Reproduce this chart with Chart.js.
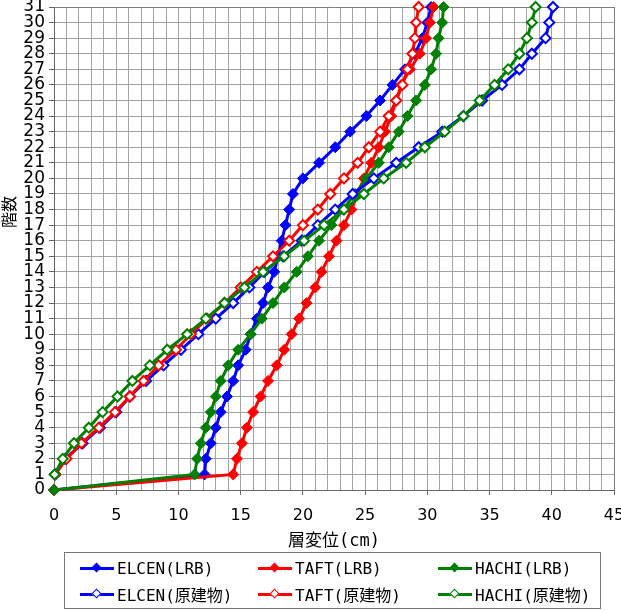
<!DOCTYPE html>
<html>
<head>
<meta charset="utf-8">
<script src="https://cdn.jsdelivr.net/npm/chart.js@4"></script>
<style>
    body { margin: 0; background: #fff; }
    #wrap { position: relative; width: 621px; height: 611px; }
    #chartBox { position: absolute; left: 0; top: 0; width: 621px; height: 556px; }
    #yTitle {
        position: absolute; left: -12px; top: 200px; width: 40px; text-align: center;
        font: 16px "Noto Sans CJK JP", sans-serif; transform: rotate(-90deg);
    }
    #legend {
        position: absolute; left: 64px; top: 552px; width: 535px; height: 53px;
        border: 1px solid #777; box-sizing: content-box;
        display: grid; grid-template-columns: 178px 180px 177px; grid-template-rows: 26px 26px;
        padding-top: 2px;
    }
    .item { display: flex; align-items: center; padding-left: 15px;
        font: 16px "DejaVu Sans Mono", "Noto Sans CJK JP", monospace; }
    .sample { position: relative; width: 34px; height: 3px; margin-right: 3px; }
    .mark { position: absolute; left: 13px; top: -3px; width: 7px; height: 7px; transform: rotate(45deg);
        box-sizing: border-box; }
</style>
</head>
<body>
<div id="wrap">
    <div id="chartBox"><canvas id="profileChart"></canvas></div>
    <div id="yTitle">階数</div>
    <div id="legend"></div>
</div>
<script>
const floorsLRB = [0, 1, 2, 3, 4, 5, 6, 7, 8, 9, 10, 11, 12, 13, 14, 15, 16, 17, 18, 19, 20, 21, 22, 23, 24, 25, 26, 27, 28, 29, 30, 31];
const floorsOrig = [1, 2, 3, 4, 5, 6, 7, 8, 9, 10, 11, 12, 13, 14, 15, 16, 17, 18, 19, 20, 21, 22, 23, 24, 25, 26, 27, 28, 29, 30, 31];

const elcenLRB = [0, 12.1, 12.2, 12.6, 13.0, 13.4, 13.9, 14.4, 14.8, 15.4, 15.8, 16.3, 16.8, 17.2, 17.7, 18.0, 18.3, 18.6, 18.9, 19.2, 20.0, 21.3, 22.6, 23.8, 25.1, 26.2, 27.2, 28.2, 29.0, 29.6, 30.0, 30.3];
const taftLRB = [0, 14.4, 14.7, 15.1, 15.5, 16.0, 16.6, 17.2, 17.9, 18.5, 19.1, 19.7, 20.3, 21.0, 21.5, 22.1, 22.7, 23.3, 23.9, 24.4, 24.9, 25.5, 26.1, 26.6, 27.1, 27.5, 27.9, 28.6, 29.4, 29.9, 30.2, 30.5];
const hachiLRB = [0, 11.3, 11.5, 11.8, 12.2, 12.6, 13.0, 13.4, 14.0, 14.8, 15.8, 16.7, 17.6, 18.5, 19.5, 20.4, 21.3, 22.3, 23.2, 24.2, 25.1, 26.1, 26.9, 27.7, 28.4, 29.1, 29.8, 30.3, 30.7, 30.9, 31.2, 31.3];

const elcenOrig = [0.1, 0.9, 2.3, 3.7, 5.0, 6.1, 7.4, 8.8, 10.2, 11.6, 13.0, 14.4, 15.7, 16.9, 18.4, 19.9, 21.2, 22.6, 24.0, 25.7, 27.5, 29.3, 31.2, 32.9, 34.4, 36.0, 37.4, 38.4, 39.5, 39.8, 40.1];
const taftOrig = [0.1, 1.0, 2.2, 3.6, 4.9, 6.1, 7.2, 8.4, 9.8, 11.0, 12.3, 13.7, 15.0, 16.3, 17.6, 18.9, 20.0, 21.2, 22.2, 23.3, 24.4, 25.3, 26.2, 26.9, 27.5, 28.0, 28.4, 28.8, 29.0, 29.1, 29.3];
const hachiOrig = [0.05, 0.7, 1.6, 2.8, 3.9, 5.1, 6.3, 7.7, 9.1, 10.7, 12.2, 13.7, 15.3, 16.8, 18.5, 20.1, 21.7, 23.3, 24.9, 26.5, 28.3, 29.8, 31.4, 32.9, 34.2, 35.4, 36.5, 37.4, 38.0, 38.4, 38.7];

const seriesNames = ['ELCEN(LRB)', 'TAFT(LRB)', 'HACHI(LRB)', 'ELCEN(原建物)', 'TAFT(原建物)', 'HACHI(原建物)'];
const seriesColors = ['#0000ff', '#ff0000', '#008000', '#0000ff', '#ff0000', '#008000'];
const xTitle = '層変位(cm)';

function points(xs, floors) {
    return xs.map((v, i) => ({ x: v, y: floors[i] }));
}

const seriesData = [
    points(elcenLRB, floorsLRB), points(taftLRB, floorsLRB), points(hachiLRB, floorsLRB),
    points(elcenOrig, floorsOrig), points(taftOrig, floorsOrig), points(hachiOrig, floorsOrig)
];

const datasets = seriesData.map((d, i) => {
    const filled = i < 3;
    return {
        label: seriesNames[i],
        data: d,
        showLine: true,
        borderColor: seriesColors[i],
        borderWidth: 3,
        backgroundColor: seriesColors[i],
        pointStyle: 'rectRot',
        pointRadius: filled ? 5.5 : 5,
        pointBorderWidth: filled ? 1 : 2,
        pointBackgroundColor: filled ? seriesColors[i] : '#ffffff',
        pointBorderColor: seriesColors[i],
        tension: 0,
        clip: false,
        order: 6 - i
    };
});

const ctx = document.getElementById('profileChart').getContext('2d');
const chart = new Chart(ctx, {
    type: 'scatter',
    data: { datasets: datasets },
    options: {
        responsive: true,
        maintainAspectRatio: false,
        animation: false,
        layout: { padding: 0 },
        plugins: { legend: { display: false }, tooltip: { enabled: false } },
        scales: {
            x: {
                type: 'linear', min: 0, max: 45,
                afterFit: (s) => { s.height = 66; s.paddingRight = 6; s.paddingLeft = 0; },
                ticks: {
                    stepSize: 1, autoSkip: false, maxRotation: 0, padding: 11, color: '#000',
                    font: { family: 'DejaVu Sans', size: 16 },
                    callback: (v) => (v % 5 === 0 ? String(v) : '')
                },
                grid: {
                    color: (c) => (c.tick && c.tick.value === 45 ? '#808080' : '#a3a3a3'),
                    tickLength: 5,
                    tickColor: (c) => (c.tick && c.tick.value % 5 === 0 ? '#666' : 'rgba(0,0,0,0)')
                },
                border: { color: '#666' },
                title: {
                    display: true, text: xTitle, color: '#000',
                    font: { family: '"DejaVu Sans Mono", "Noto Sans CJK JP", monospace', size: 17 },
                    padding: { top: 2, bottom: 4 }
                }
            },
            y: {
                type: 'linear', min: 0, max: 31,
                afterFit: (s) => { s.width = 54; s.paddingTop = 7; s.paddingBottom = 0; },
                ticks: {
                    stepSize: 1, autoSkip: false, padding: 4, color: '#000',
                    font: { family: 'DejaVu Sans', size: 17 }
                },
                grid: {
                    color: (c) => (c.tick && c.tick.value === 31 ? '#808080' : '#a3a3a3'),
                    tickLength: 5,
                    tickColor: '#666'
                },
                border: { color: '#666' }
            }
        }
    }
});

const legend = document.getElementById('legend');
seriesNames.forEach((name, i) => {
    const item = document.createElement('div');
    item.className = 'item';
    const sample = document.createElement('span');
    sample.className = 'sample';
    sample.style.background = seriesColors[i];
    const mark = document.createElement('span');
    mark.className = 'mark';
    mark.style.background = i < 3 ? seriesColors[i] : '#fff';
    mark.style.border = i < 3 ? 'none' : '1.5px solid ' + seriesColors[i];
    sample.appendChild(mark);
    const text = document.createElement('span');
    text.textContent = name;
    item.appendChild(sample);
    item.appendChild(text);
    legend.appendChild(item);
});
</script>
</body>
</html>
